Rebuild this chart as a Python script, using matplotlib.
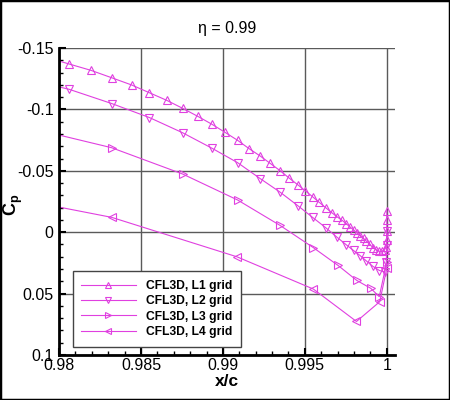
import matplotlib
matplotlib.use("Agg")
import matplotlib.pyplot as plt
from matplotlib.ticker import MultipleLocator, FixedLocator
from matplotlib.patches import Rectangle

plt.rcParams['font.family'] = ['Liberation Sans', 'DejaVu Sans']
plt.rcParams['mathtext.fontset'] = 'custom'
plt.rcParams['mathtext.bf'] = 'Liberation Sans:bold'
plt.rcParams['mathtext.rm'] = 'Liberation Sans'

title = "\u03b7 = 0.99"
labels = ["CFL3D, L1 grid", "CFL3D, L2 grid", "CFL3D, L3 grid", "CFL3D, L4 grid"]

x_l1 = [0.97927, 0.98061, 0.98195, 0.98321, 0.98443, 0.98551, 0.98657, 0.98754,
        0.98846, 0.98933, 0.99012, 0.99090, 0.99160, 0.99227, 0.99288, 0.99349,
        0.99404, 0.99456, 0.99502, 0.99547, 0.99587, 0.99626, 0.99663, 0.99698,
        0.99727, 0.99754, 0.99776, 0.99797, 0.99817, 0.99837, 0.99858, 0.99876,
        0.99896, 0.99916, 0.99937, 0.99955, 0.99971, 0.99986, 0.99996, 1.0, 1.0,
        1.0, 1.0]
cp_l1 = [-0.1423, -0.1370, -0.1318, -0.1258, -0.1199, -0.1136, -0.1074, -0.1009,
         -0.0944, -0.0879, -0.0814, -0.0748, -0.0680, -0.0621, -0.0561, -0.0501,
         -0.0441, -0.0387, -0.0338, -0.0289, -0.0244, -0.0201, -0.0160, -0.0124,
         -0.0097, -0.0067, -0.0042, -0.0018, 0.0004, 0.0029, 0.0050, 0.0074,
         0.0099, 0.0126, 0.0145, 0.0156, 0.0156, 0.0145, 0.0118, 0.0064, -0.0012,
         -0.0099, -0.0175]

x_l2 = [0.97805, 0.98061, 0.98321, 0.98551, 0.98754, 0.98933, 0.99090, 0.99227,
        0.99349, 0.99456, 0.99547, 0.99626, 0.99698, 0.99754, 0.99797, 0.99837,
        0.99876, 0.99916, 0.99955, 0.99986, 0.99997, 1.0, 1.0]
cp_l2 = [-0.1245, -0.1164, -0.1048, -0.0934, -0.0810, -0.0684, -0.0566, -0.0437,
         -0.0326, -0.0217, -0.0121, -0.0038, 0.0043, 0.0104, 0.0149, 0.0190,
         0.0235, 0.0279, 0.0312, 0.0322, 0.0243, 0.0104, -0.0012]

x_l3 = [0.97811, 0.98321, 0.98754, 0.99090, 0.99349, 0.99551, 0.99703, 0.99817,
        0.99902, 0.99954, 1.0]
cp_l3 = [-0.0852, -0.0688, -0.0474, -0.0262, -0.0055, 0.0125, 0.0271, 0.0393,
         0.0457, 0.0525, 0.0240]

x_l4 = [0.97518, 0.98321, 0.99085, 0.99552, 0.99815, 0.99957, 1.0]
cp_l4 = [-0.0330, -0.0121, 0.0200, 0.0463, 0.0727, 0.0566, 0.0292]

yticks = [-0.15, -0.1, -0.05, 0, 0.05, 0.1]
ytick_labels = ["-0.15", "-0.1", "-0.05", "0", "0.05", "0.1"]
xticks = [0.98, 0.985, 0.99, 0.995, 1.0]
xtick_labels = ["0.98", "0.985", "0.99", "0.995", "1"]

series = [(x_l1, cp_l1, '^'), (x_l2, cp_l2, 'v'), (x_l3, cp_l3, '>'), (x_l4, cp_l4, '<')]
color = '#e040e0'

fig = plt.figure(figsize=(4.5, 4.0), dpi=100)
ax = fig.add_axes([59/450, 45/400, 336/450, 307/400])

for (xs, ys, mk), lab in zip(series, labels):
    ax.plot(xs, ys, color=color, lw=0.8, marker=mk, markersize=5.5,
            markerfacecolor='none', markeredgecolor=color, markeredgewidth=0.8,
            label=lab)

ax.set_xlim(0.98, 1.0005)
ax.set_ylim(0.1, -0.15)
ax.xaxis.set_major_locator(FixedLocator(xticks))
ax.set_xticklabels(xtick_labels)
ax.yaxis.set_major_locator(FixedLocator(yticks))
ax.set_yticklabels(ytick_labels)
ax.xaxis.set_minor_locator(MultipleLocator(0.001))
ax.yaxis.set_minor_locator(MultipleLocator(0.01))

ax.set_axisbelow(True)
ax.grid(True, which='major', color='#5a5a5a', lw=1.0)

for s in ['top', 'right']:
    ax.spines[s].set_visible(False)
for s in ['left', 'bottom']:
    ax.spines[s].set_linewidth(2.0)
    ax.spines[s].set_color('black')

ax.tick_params(which='major', direction='in', length=5, width=1.5, labelsize=11.5,
               top=False, right=False)
ax.tick_params(which='minor', direction='in', length=3, width=1.0, top=False, right=False)
ax.tick_params(axis='x', which='major', pad=2)
ax.tick_params(axis='y', which='major', pad=4)

ax.set_title(title, fontsize=11.5, pad=11)
ax.set_xlabel('x/c', fontsize=12.5, fontweight='bold', labelpad=1)
ax.set_ylabel(r'$\mathbf{C_p}$', fontsize=13)
ax.yaxis.set_label_coords(-0.10, 0.49)

leg = ax.legend(loc='upper left', bbox_to_anchor=(0.041, 0.272), borderaxespad=0,
                prop={'weight': 'bold', 'size': 8.7}, handlelength=4.5,
                handletextpad=0.85, labelspacing=0.28, borderpad=0.7,
                fancybox=False, framealpha=1, edgecolor='#444444', markerscale=0.75)
leg.get_frame().set_linewidth(1.0)

fig.patches.append(Rectangle((0, 0), 1, 1, transform=fig.transFigure, fill=False,
                             edgecolor='black', linewidth=2.5))

fig.savefig('out.png', dpi=100)
